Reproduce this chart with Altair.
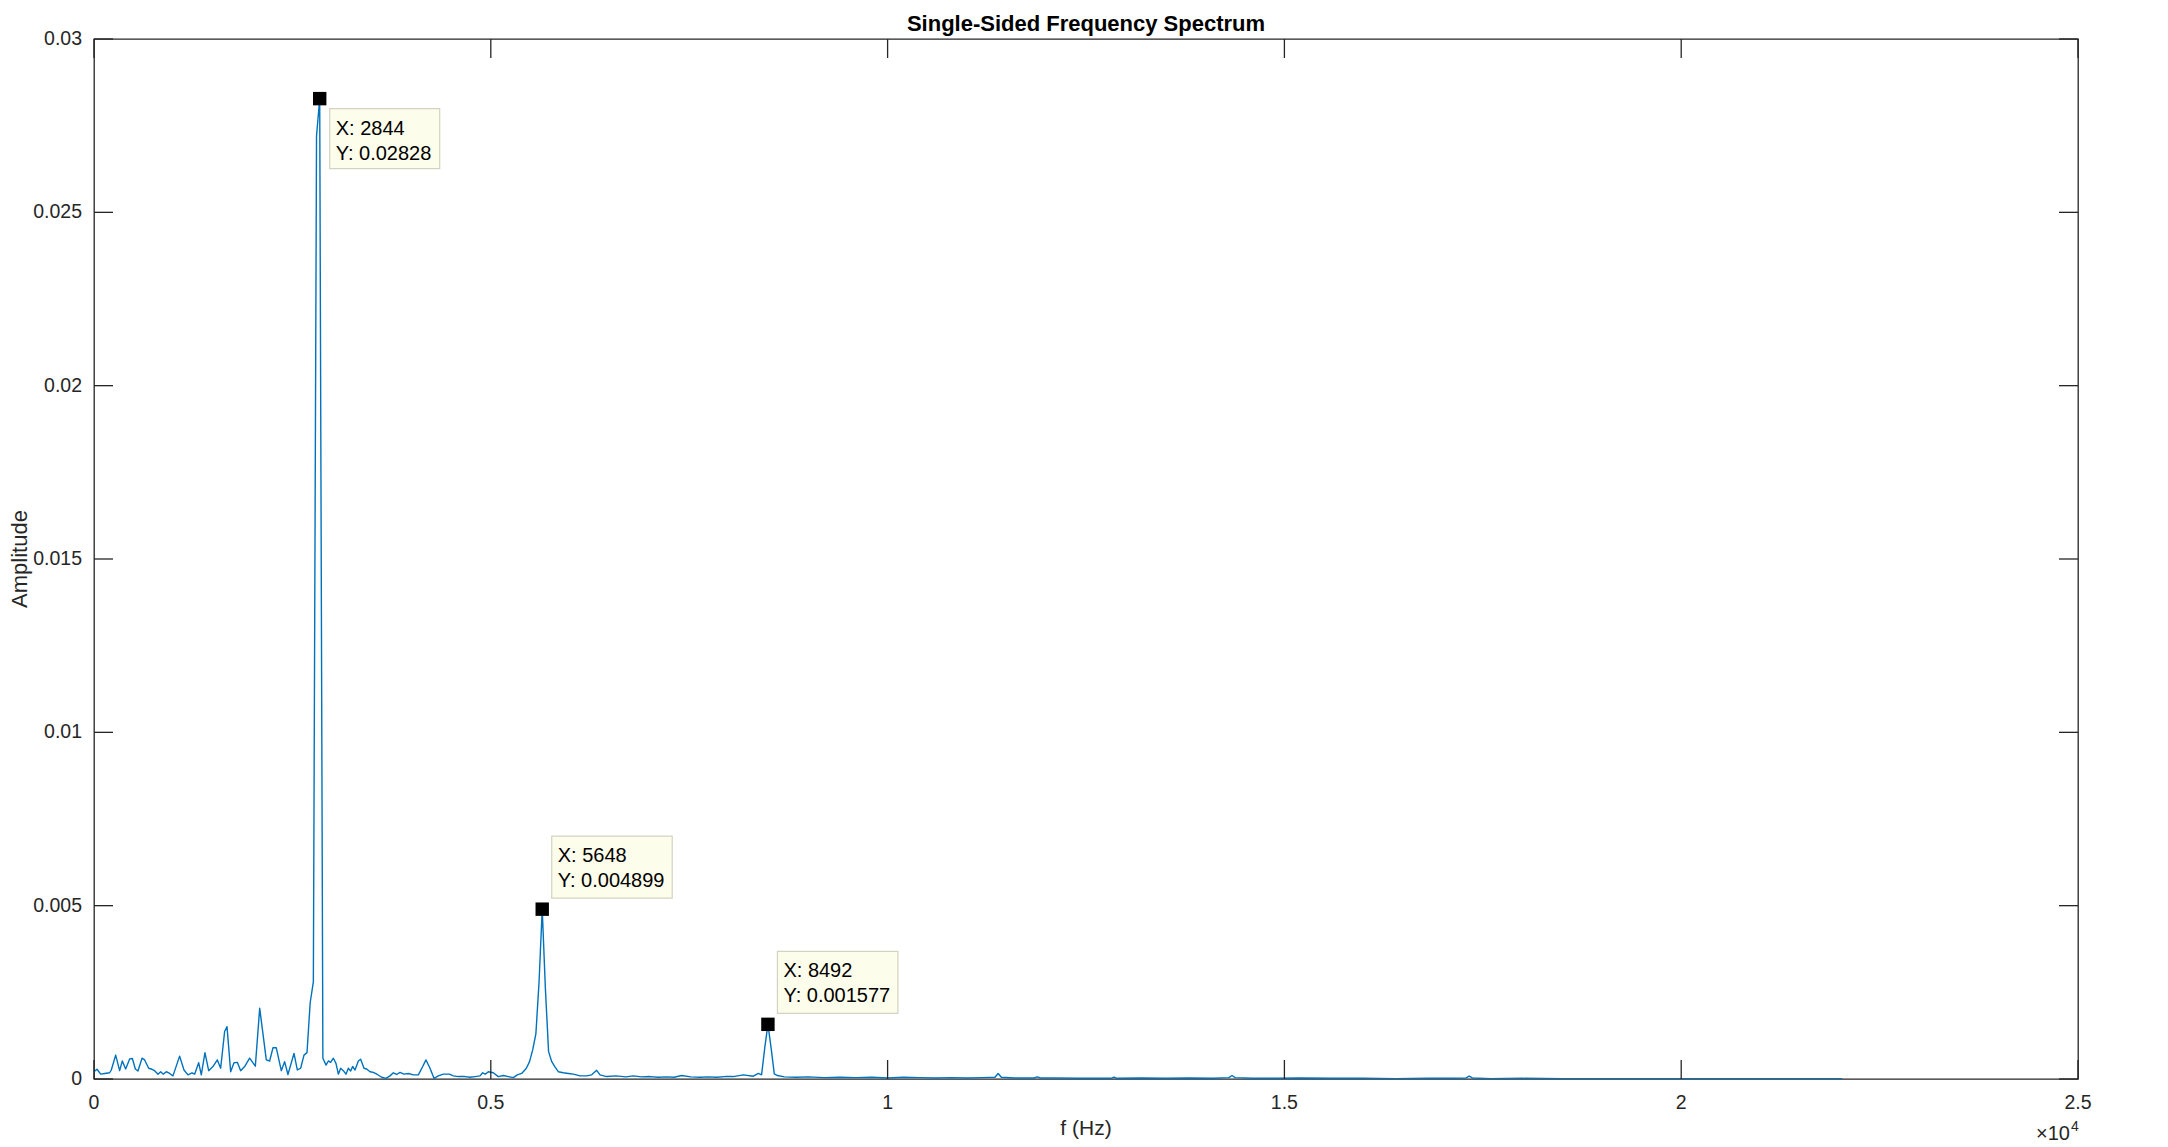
import altair as alt
import pandas as pd

# ---------------- data ----------------
freq_hz = [
    0, 38, 84, 134, 197, 218, 273, 323, 357, 399,
    449, 483, 521, 554, 605, 638, 689, 731, 764, 806,
    840, 874, 911, 953, 995, 1079, 1134, 1184, 1235, 1268,
    1319, 1352, 1398, 1445, 1499, 1554, 1596, 1646, 1676, 1722,
    1764, 1806, 1848, 1898, 1961, 2033, 2088, 2171, 2213, 2255,
    2297, 2360, 2402, 2444, 2520, 2562, 2604, 2646, 2684, 2724,
    2764, 2804, 2844, 2884, 2924, 2953, 2982, 3016, 3049, 3079,
    3108, 3142, 3175, 3205, 3234, 3259, 3289, 3331, 3360, 3402,
    3436, 3478, 3520, 3570, 3625, 3679, 3730, 3772, 3814, 3856,
    3906, 3961, 4024, 4087, 4142, 4183, 4234, 4284, 4339, 4402,
    4477, 4528, 4591, 4675, 4738, 4801, 4864, 4897, 4931, 4969,
    5032, 5094, 5158, 5221, 5284, 5334, 5389, 5448, 5488, 5528,
    5568, 5608, 5648, 5688, 5728, 5768, 5808, 5851, 5914, 5977,
    6040, 6124, 6208, 6271, 6334, 6376, 6460, 6580, 6700, 6796,
    6900, 7006, 7110, 7216, 7310, 7405, 7520, 7636, 7740, 7846,
    7950, 8056, 8182, 8308, 8371, 8412, 8452, 8492, 8532, 8572,
    8612, 8700, 8850, 9000, 9200, 9400, 9600, 9800, 10000, 10200,
    10400, 10600, 10800, 11000, 11200, 11353, 11393, 11433, 11600, 11846,
    11886, 11926, 12100, 12400, 12813, 12853, 12893, 13200, 13500, 13800,
    14100, 14300, 14340, 14380, 14600, 14900, 15200, 15600, 16000, 16400,
    16800, 17100, 17289, 17329, 17369, 17600, 18000, 18500, 19000, 19500,
    20000, 20500, 21000, 21500, 22028,
]
amplitude = [
    0.00021, 0.00028, 0.00014, 0.00016, 0.00018, 0.00026, 0.00069, 0.00024, 0.00052, 0.00029,
    0.00058, 0.00059, 0.00029, 0.00023, 0.00060, 0.00055, 0.00031, 0.00028, 0.00024, 0.00014,
    0.00021, 0.00014, 0.00021, 0.00016, 0.00009, 0.00066, 0.00026, 0.00012, 0.00018, 0.00014,
    0.00047, 0.00012, 0.00076, 0.00024, 0.00036, 0.00055, 0.00031, 0.00137, 0.00151, 0.00021,
    0.00047, 0.00048, 0.00024, 0.00036, 0.00060, 0.00037, 0.00204, 0.00055, 0.00052, 0.00090,
    0.00090, 0.00024, 0.00050, 0.00013, 0.00074, 0.00026, 0.00031, 0.00069, 0.00076, 0.00220,
    0.00280, 0.02720, 0.02828, 0.00060, 0.00040, 0.00052, 0.00048, 0.00060, 0.00045, 0.00014,
    0.00031, 0.00024, 0.00014, 0.00031, 0.00023, 0.00036, 0.00026, 0.00052, 0.00057, 0.00031,
    0.00029, 0.00021, 0.00019, 0.00013, 0.00005, 0.00002, 0.00009, 0.00018, 0.00013, 0.00019,
    0.00014, 0.00016, 0.00012, 0.00012, 0.00036, 0.00055, 0.00031, 0.00002, 0.00009, 0.00014,
    0.00014, 0.00009, 0.00007, 0.00007, 0.00005, 0.00007, 0.00009, 0.00018, 0.00014, 0.00021,
    0.00018, 0.00007, 0.00010, 0.00007, 0.00004, 0.00012, 0.00016, 0.00031, 0.00050, 0.00084,
    0.00130, 0.00280, 0.004899, 0.00260, 0.00079, 0.00050, 0.00035, 0.00021, 0.00018, 0.00016,
    0.00014, 0.00009, 0.00009, 0.00012, 0.00025, 0.00012, 0.00007, 0.00009, 0.00006, 0.00009,
    0.00006, 0.00007, 0.00005, 0.00006, 0.00005, 0.00010, 0.00006, 0.00005, 0.00006, 0.00005,
    0.00007, 0.00007, 0.00012, 0.00008, 0.00016, 0.00012, 0.00090, 0.001577, 0.00090, 0.00015,
    0.00010, 0.00006, 0.00005, 0.00006, 0.00004, 0.00005, 0.00004, 0.00005, 0.00003, 0.00005,
    0.00004, 0.00003, 0.00004, 0.00003, 0.00004, 0.00005, 0.00016, 0.00005, 0.00003, 0.00003,
    0.00006, 0.00003, 0.00003, 0.00002, 0.00002, 0.00005, 0.00002, 0.00003, 0.00002, 0.00003,
    0.00002, 0.00004, 0.00010, 0.00004, 0.00002, 0.00002, 0.00003, 0.00002, 0.00002, 0.00001,
    0.00002, 0.00002, 0.00003, 0.00008, 0.00003, 0.00001, 0.00002, 0.00001, 0.00001, 0.00001,
    0.00001, 0.00001, 0.00001, 0.00001, 0.00001,
]
x_tick_values = [0, 5000, 10000, 15000, 20000, 25000]
x_tick_labels = ["0", "0.5", "1", "1.5", "2", "2.5"]
y_tick_values = [0, 0.005, 0.01, 0.015, 0.02, 0.025, 0.03]
y_tick_labels = ["0", "0.005", "0.01", "0.015", "0.02", "0.025", "0.03"]

tip_x = [2844, 5648, 8492]
tip_y = [0.02828, 0.004899, 0.001577]
tip_line1 = ["X: 2844", "X: 5648", "X: 8492"]
tip_line2 = ["Y: 0.02828", "Y: 0.004899", "Y: 0.001577"]
tip_side = ["below", "above", "above"]

title_text = ["Single-Sided Frequency Spectrum"]
x_title = ["f (Hz)"]
y_title = ["Amplitude"]
exp_base = ["\u00d710"]
exp_power = ["4"]

# ---------------- styling ----------------
W, H = 1984, 1040
FONT = "Liberation Sans"
AX = "#262626"
LINE = "#0072BD"
TICK_LEN = 19

spec_df = pd.DataFrame({"f": freq_hz, "a": amplitude})
tips_df = pd.DataFrame({"f": tip_x, "a": tip_y, "l1": tip_line1, "l2": tip_line2, "side": tip_side})
xt_df = pd.DataFrame({"f": x_tick_values, "lab": x_tick_labels})
yt_df = pd.DataFrame({"a": y_tick_values, "lab": y_tick_labels})

x_scale = alt.Scale(domain=[0, 25000], nice=False, zero=False)
y_scale = alt.Scale(domain=[0, 0.03], nice=False, zero=False)
XF = alt.X("f:Q", scale=x_scale, axis=None)
YF = alt.Y("a:Q", scale=y_scale, axis=None)

line = alt.Chart(spec_df).mark_line(
    color=LINE, strokeWidth=1.4, strokeJoin="round", clip=True
).encode(x=XF, y=YF)

rule_style = dict(color=AX, strokeWidth=1.3)
bottom_ticks = alt.Chart(xt_df).mark_rule(**rule_style).encode(
    x=XF, y=alt.value(H), y2=alt.value(H - TICK_LEN))
top_ticks = alt.Chart(xt_df).mark_rule(**rule_style).encode(
    x=XF, y=alt.value(0), y2=alt.value(TICK_LEN))
left_ticks = alt.Chart(yt_df).mark_rule(**rule_style).encode(
    y=YF, x=alt.value(0), x2=alt.value(TICK_LEN))
right_ticks = alt.Chart(yt_df).mark_rule(**rule_style).encode(
    y=YF, x=alt.value(W), x2=alt.value(W - TICK_LEN))

x_labels = alt.Chart(xt_df).mark_text(
    align="center", baseline="middle", font=FONT, fontSize=19.5, color=AX
).encode(x=XF, y=alt.value(H + 24), text="lab:N")
y_labels = alt.Chart(yt_df).mark_text(
    align="right", baseline="middle", font=FONT, fontSize=19.5, color=AX
).encode(y=YF, x=alt.value(-12), text="lab:N")

x_title_mark = alt.Chart(pd.DataFrame({"t": x_title})).mark_text(
    align="center", baseline="middle", font=FONT, fontSize=21, color=AX
).encode(text="t:N", x=alt.value(W / 2), y=alt.value(H + 50))
y_title_mark = alt.Chart(pd.DataFrame({"t": y_title})).mark_text(
    align="center", baseline="middle", angle=270, font=FONT, fontSize=22, color=AX
).encode(text="t:N", x=alt.value(-74), y=alt.value(H / 2))
title_mark = alt.Chart(pd.DataFrame({"t": title_text})).mark_text(
    align="center", baseline="alphabetic", font=FONT, fontSize=22, fontWeight="bold", color="black"
).encode(text="t:N", x=alt.value(W / 2), y=alt.value(-8))


def tip_layers(side, box_x0, box_x1, box_y0, box_y1, text_dx, l1_dy, l2_dy):
    base = alt.Chart(tips_df).transform_filter(alt.datum.side == side)
    box = base.mark_rect(
        fill="#fdfdeb", stroke="#d3d3c3", strokeWidth=1.2,
        xOffset=box_x0, x2Offset=box_x1, yOffset=box_y0, y2Offset=box_y1,
    ).encode(x=XF, y=YF, x2=alt.X2("f"), y2=alt.Y2("a"))
    t1 = base.mark_text(
        align="left", baseline="alphabetic", dx=text_dx, dy=l1_dy,
        font=FONT, fontSize=20, color="black",
    ).encode(x=XF, y=YF, text="l1:N")
    t2 = base.mark_text(
        align="left", baseline="alphabetic", dx=text_dx, dy=l2_dy,
        font=FONT, fontSize=20, color="black",
    ).encode(x=XF, y=YF, text="l2:N")
    return [box, t1, t2]


below = tip_layers("below", 10, 120, 10, 70, 16, 36, 61)
above = tip_layers("above", 9.5, 130, -11, -73, 15.5, -47, -22)

markers = alt.Chart(tips_df).mark_square(size=180, color="black", opacity=1, filled=True).encode(
    x=XF, y=YF)

exp_a = alt.Chart(pd.DataFrame({"t": exp_base})).mark_text(
    align="right", baseline="alphabetic", font=FONT, fontSize=20, color=AX
).encode(text="t:N", x=alt.value(W - 8), y=alt.value(H + 61))
exp_b = alt.Chart(pd.DataFrame({"t": exp_power})).mark_text(
    align="left", baseline="alphabetic", font=FONT, fontSize=14, color=AX
).encode(text="t:N", x=alt.value(W - 7), y=alt.value(H + 52))

chart = alt.layer(
    line, bottom_ticks, top_ticks, left_ticks, right_ticks,
    x_labels, y_labels, x_title_mark, y_title_mark, title_mark,
    *below, *above, markers, exp_a, exp_b,
).properties(
    width=W, height=H,
    autosize=alt.AutoSizeParams(type="none"),
    padding={"left": 86, "top": 31, "right": 80, "bottom": 66},
).configure_view(stroke=AX, strokeWidth=1.3)

chart.save("out.html", embed_options={"renderer": "svg", "actions": False})
